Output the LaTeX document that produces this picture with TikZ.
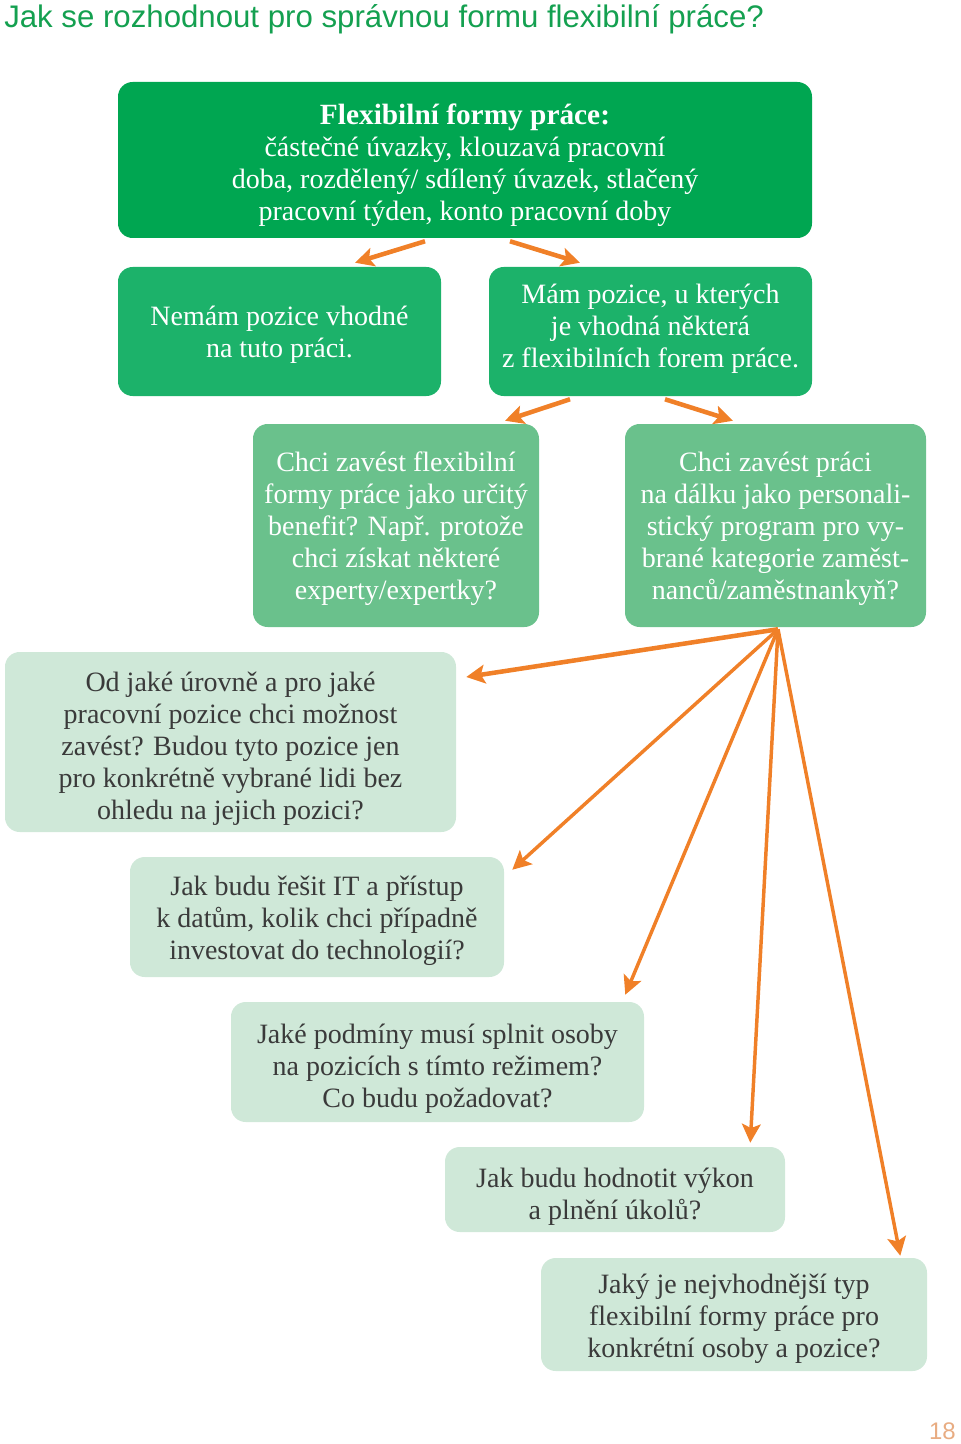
\documentclass[tikz,border=0pt]{standalone}
\usepackage{fontspec}
\setmainfont{Liberation Serif}
\newfontfamily\titlefont{Liberation Sans}
\usetikzlibrary{arrows.meta,calc}
\definecolor{dkgreen}{RGB}{0,166,81}
\definecolor{mgreen}{RGB}{28,178,106}
\definecolor{lgreen}{RGB}{106,193,140}
\definecolor{pale}{RGB}{207,232,216}
\definecolor{arrorange}{RGB}{240,128,40}
\definecolor{txtgray}{RGB}{58,58,58}
\definecolor{pagenum}{RGB}{232,172,130}
\definecolor{titlegreen}{RGB}{20,160,80}
% struts fixing the first-line height / last-line depth (vertical text placement)
\newcommand\tst[2][12]{\rule{0pt}{\dimexpr #1pt+10.1pt+#2\dimexpr 1.5pt\relax\relax}}
\newcommand\bst[1][12]{\rule[-#1pt]{0pt}{0pt}}
\tikzset{
  box/.style={rounded corners=11pt, inner sep=0pt, align=center,
    font=\fontsize{21}{24}\selectfont},
  darkbox/.style={box, fill=dkgreen, text=white},
  midbox/.style={box, fill=mgreen, text=white},
  lightbox/.style={box, fill=lgreen, text=white},
  palebox/.style={box, fill=pale, text=txtgray},
  arr/.style={draw=arrorange, line width=3.4pt,
    -{Stealth[length=14pt, width=14pt, inset=3pt]}},
  thinarr/.style={arr, line width=2.6pt}
}
\begin{document}
\begin{tikzpicture}[x=0.75pt,y=-0.75pt]
\useasboundingbox (0,0) rectangle (960,1444);

\node[anchor=base west, inner sep=0pt, text=titlegreen, font=\titlefont\fontsize{23.4}{28}\selectfont] (title) at (4,28) {Jak se rozhodnout pro správnou formu flexibilní práce?};

\node[darkbox, minimum width=694*0.75pt, minimum height=156*0.75pt] (top) at (465,160)
  {\tst{6}\textbf{\fontsize{22}{24}\selectfont Flexibilní formy práce:}\\ částečné úvazky, klouzavá pracovní\\ doba, rozdělený/ sdílený úvazek, stlačený\\ pracovní týden, konto pracovní doby\bst};

\node[midbox, minimum width=323*0.75pt, minimum height=129*0.75pt] (n2) at (279.5,331.5)
  {\tst{3}Nemám pozice vhodné\\ na tuto práci.\bst};
\node[midbox, minimum width=323*0.75pt, minimum height=129*0.75pt] (n3) at (650.5,331.5)
  {\tst{-3}Mám pozice, u kterých\\ je vhodná některá\\ z flexibilních forem práce.\bst};

\node[lightbox, minimum width=286*0.75pt, minimum height=203*0.75pt] (n4) at (396,525.5)
  {\tst{3}Chci zavést flexibilní\\ formy práce jako určitý\\ benefit? Např. protože\\ chci získat některé\\ experty/expertky?\bst};
\node[lightbox, minimum width=301*0.75pt, minimum height=203*0.75pt] (n5) at (775.5,525.5)
  {\tst{3}Chci zavést práci\\ na dálku jako personali-\\ stický program pro vy-\\ brané kategorie zaměst-\\ nanců/zaměstnankyň?\bst};

\node[palebox, minimum width=451*0.75pt, minimum height=180*0.75pt] (n6) at (230.5,742)
  {\tst[7]{7}Od jaké úrovně a pro jaké\\ pracovní pozice chci možnost\\ zavést? Budou tyto pozice jen\\ pro konkrétně vybrané lidi bez\\ ohledu na jejich pozici?\bst[7]};
\node[palebox, minimum width=374*0.75pt, minimum height=120*0.75pt] (n7) at (317,917)
  {\tst{4}Jak budu řešit IT a přístup\\ k datům, kolik chci případně\\ investovat do technologií?\bst};
\node[palebox, minimum width=413*0.75pt, minimum height=120*0.75pt] (n8) at (437.5,1062)
  {\tst[7]{7}Jaké podmíny musí splnit osoby\\ na pozicích s tímto režimem?\\ Co budu požadovat?\bst[7]};
\node[palebox, minimum width=340*0.75pt, minimum height=85*0.75pt] (n9) at (615,1189.5)
  {\tst[7]{7}Jak budu hodnotit výkon\\ a plnění úkolů?\bst[7]};
\node[palebox, minimum width=386*0.75pt, minimum height=113*0.75pt] (n10) at (734,1314.5)
  {\tst[7]{4}Jaký je nejvhodnější typ\\ flexibilní formy práce pro\\ konkrétní osoby a pozice?\bst[7]};

\node[anchor=base east, inner sep=0pt, text=pagenum, font=\titlefont\fontsize{18}{20}\selectfont] (page) at (956,1439) {18};

% arrows
\draw[arr] ($(top.south)+(-40,3)$) -- ($(n2.north)+(75.5,-4)$);
\draw[arr] ($(top.south)+(45,3)$) -- ($(n3.north)+(-70.5,-4)$);
\draw[arr] ($(n3.south)+(-80.5,3)$) -- ($(n4.north)+(109,-3)$);
\draw[arr] ($(n3.south)+(14.5,3)$) -- ($(n5.north)+(-42.5,-3)$);

\coordinate (fan) at ($(n5.south)+(2.5,2)$);
\draw[arr] (fan) -- ($(n6.east)+(10,-65)$);
\draw[thinarr] (fan) -- ($(n7.north east)+(8,13)$);
\draw[thinarr] (fan) -- ($(n8.north east)+(-19,-7)$);
\draw[thinarr] (fan) -- ($(n9.north east)+(-35,-4)$);
\draw[thinarr] (fan) -- ($(n10.north east)+(-27,-2)$);
\end{tikzpicture}
\end{document}
